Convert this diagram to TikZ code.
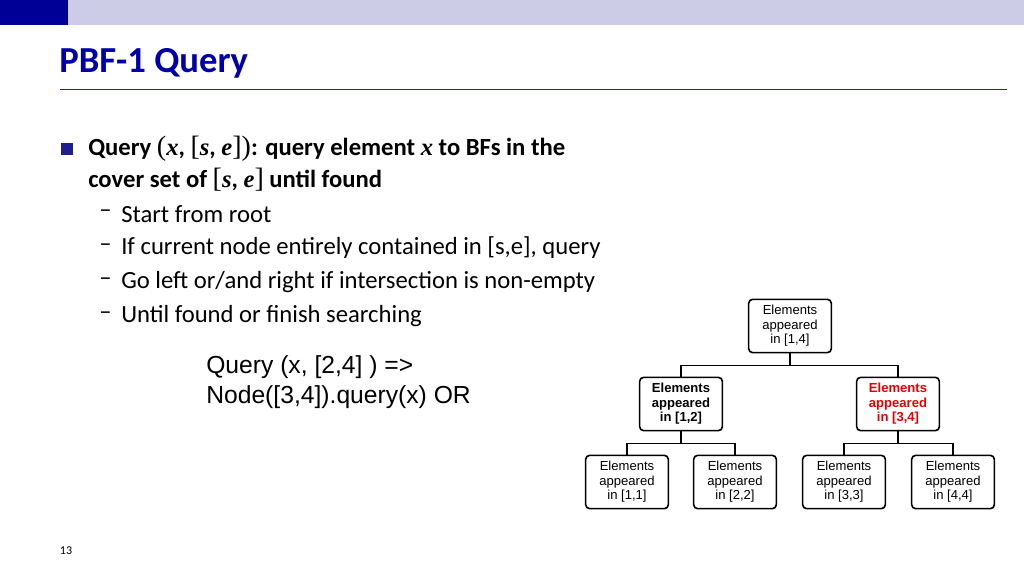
\documentclass[tikz,border=0pt]{standalone}
\usepackage{fontspec}
\setmainfont{Carlito}
\newfontfamily\arial{Liberation Sans}
\newfontfamily\myserif{Liberation Serif}
\definecolor{titleblue}{RGB}{0,0,170}
\definecolor{bardark}{RGB}{0,0,150}
\definecolor{barlight}{RGB}{204,204,230}
\definecolor{bul}{RGB}{30,30,140}
\newcommand{\myvar}[1]{{\myserif\bfseries\itshape #1}}
\newcommand{\mypar}[1]{{\myserif\mdseries\fontsize{21}{22}\selectfont #1}}
\begin{document}
\begin{tikzpicture}[x=0.75pt,y=-0.75pt,
  box/.style={draw,line width=1.2pt,rounded corners=3pt,minimum width=62pt,minimum height=40pt,align=center,font=\arial\fontsize{9.8}{10.8}\selectfont,inner sep=1pt},
  conn/.style={line width=1.2pt},
  body/.style={anchor=west,font=\fontsize{18.5}{22}\selectfont,inner sep=0pt}]
\useasboundingbox (0,0) rectangle (1024,576);
\fill[barlight] (0,0) rectangle (1024,25);
\fill[bardark] (0,0) rectangle (68,25);
\node[anchor=west,inner sep=0pt,text=titleblue,font=\bfseries\fontsize{27.5}{30}\selectfont] (title) at (59,63) {PBF-1 Query};
\draw[bardark!70!gray,line width=0.6pt] (60,89) -- (1007,89);
\fill[bul] (61,143) rectangle (73,155);
\node[body,font=\bfseries\fontsize{18.5}{22}\selectfont] (l1) at (88,149) {Query \mypar{(}\myvar{x}, \mypar{[}\myvar{s}, \myvar{e}\mypar{])}: query element \myvar{x} to BFs in the};
\node[body,font=\bfseries\fontsize{18.5}{22}\selectfont] (l2) at (88,180) {cover set of \mypar{[}\myvar{s}, \myvar{e}\mypar{]} until found};
\foreach \y/\t in {214/{Start from root},248/{If current node entirely contained in [s,e], query},282/{Go left or/and right if intersection is non-empty},316/{Until found or finish searching}}{
  \node[body] at (99,\y) {--};
  \node[body] at (121,\y) {\t};
}
\node[anchor=west,inner sep=0pt,align=left,font=\arial\fontsize{18.5}{23}\selectfont] (q) at (206,382) {Query (x, [2,4] ) =\textgreater\\Node([3,4]).query(x) OR};
\node[box] (r) at (790,326) {Elements\\appeared\\in [1,4]};
\node[box,font=\arial\bfseries\fontsize{9.8}{10.8}\selectfont] (a) at (681,404) {Elements\\appeared\\in [1,2]};
\node[box,text=red!90!black,font=\arial\bfseries\fontsize{9.8}{10.8}\selectfont] (b) at (898,404) {Elements\\appeared\\in [3,4]};
\node[box] (c1) at (627,482) {Elements\\appeared\\in [1,1]};
\node[box] (c2) at (735,482) {Elements\\appeared\\in [2,2]};
\node[box] (c3) at (844,482) {Elements\\appeared\\in [3,3]};
\node[box] (c4) at (953,482) {Elements\\appeared\\in [4,4]};
\draw[conn] (r.south) -- ++(0,12) -| (a.north);
\draw[conn] (r.south) -- ++(0,12) -| (b.north);
\draw[conn] (a.south) -- ++(0,12) -| (c1.north);
\draw[conn] (a.south) -- ++(0,12) -| (c2.north);
\draw[conn] (b.south) -- ++(0,12) -| (c3.north);
\draw[conn] (b.south) -- ++(0,12) -| (c4.north);
\node[font=\fontsize{9}{10}\selectfont] (pg) at (66,551) {13};
\end{tikzpicture}
\end{document}
